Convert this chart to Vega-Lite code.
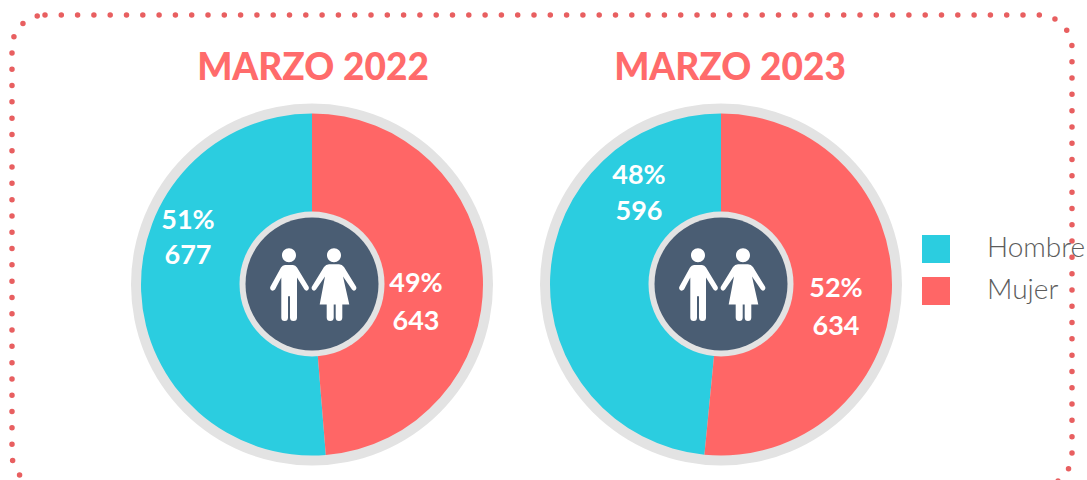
{
  "$schema": "https://vega.github.io/schema/vega-lite/v6.json",
  "width": 1087,
  "height": 480,
  "padding": 0,
  "autosize": {"type": "none"},
  "background": "white",
  "config": {"view": {"stroke": null}, "text": {"font": "Lato"}},
  "datasets": {
    "generos": [
      {"periodo": "MARZO 2022", "genero": "Hombre", "valor": 677, "rotulo": "51%\n677"},
      {"periodo": "MARZO 2022", "genero": "Mujer", "valor": 643, "rotulo": "49%\n643"},
      {"periodo": "MARZO 2023", "genero": "Hombre", "valor": 596, "rotulo": "48%\n596"},
      {"periodo": "MARZO 2023", "genero": "Mujer", "valor": 634, "rotulo": "52%\n634"}
    ],
    "periodos": [{"periodo": "MARZO 2022"}, {"periodo": "MARZO 2023"}],
    "marco": [{"marco": "borde"}]
  },
  "layer": [
    {
      "data": {"name": "marco"},
      "mark": {"type": "rect", "filled": false, "stroke": "#E85F60", "strokeWidth": 5.5, "strokeCap": "round", "strokeDash": [0, 16.3], "cornerRadius": 33},
      "encoding": {"x": {"value": 12}, "x2": {"value": 1072}, "y": {"value": 15}, "y2": {"value": 487}}
    },
    {
      "data": {"name": "periodos"},
      "mark": {"type": "arc", "radius": 181, "theta": 0, "theta2": 6.2832, "fill": "#E3E3E3"},
      "encoding": {
        "x": {"field": "periodo", "type": "nominal", "axis": null, "scale": {"domain": ["MARZO 2022", "MARZO 2023"], "range": [312, 721], "padding": 0}},
        "y": {"value": 284.5}
      }
    },
    {
      "data": {"name": "generos"},
      "transform": [{"stack": "valor", "groupby": ["periodo"], "sort": [{"field": "genero", "order": "descending"}], "offset": "normalize", "as": ["t0", "t1"]}],
      "mark": {"type": "arc", "radius": 171},
      "encoding": {
        "x": {"field": "periodo", "type": "nominal", "axis": null, "scale": {"domain": ["MARZO 2022", "MARZO 2023"], "range": [312, 721], "padding": 0}},
        "y": {"value": 284.5},
        "theta": {"field": "t0", "type": "quantitative", "scale": {"domain": [0, 1], "range": [0, 6.2832]}},
        "theta2": {"field": "t1"},
        "color": {
          "field": "genero", "type": "nominal",
          "scale": {"domain": ["Hombre", "Mujer"], "range": ["#2BCDE0", "#FF6666"]},
          "legend": {"orient": "none", "legendX": 922, "legendY": 235, "title": null, "symbolType": "square", "symbolSize": 784, "symbolStrokeWidth": 0, "symbolOpacity": 1, "labelFont": "Lato", "labelFontWeight": 300, "labelFontSize": 28, "labelColor": "#5C5C5C", "labelOffset": 37, "rowPadding": 14, "labelLimit": 200}
        }
      }
    },
    {
      "data": {"name": "periodos"},
      "mark": {"type": "arc", "radius": 72.5, "theta": 0, "theta2": 6.2832, "fill": "#E3E3E3"},
      "encoding": {
        "x": {"field": "periodo", "type": "nominal", "axis": null, "scale": {"domain": ["MARZO 2022", "MARZO 2023"], "range": [312, 721], "padding": 0}},
        "y": {"value": 284}
      }
    },
    {
      "data": {"name": "periodos"},
      "mark": {"type": "arc", "radius": 66.5, "theta": 0, "theta2": 6.2832, "fill": "#4A5D73"},
      "encoding": {
        "x": {"field": "periodo", "type": "nominal", "axis": null, "scale": {"domain": ["MARZO 2022", "MARZO 2023"], "range": [312, 721], "padding": 0}},
        "y": {"value": 284}
      }
    },
    {
      "data": {"name": "periodos"},
      "mark": {
        "type": "point", "filled": true, "fill": "white", "opacity": 1, "size": 4, "strokeWidth": 0,
        "shape": "M-30,-28.3 a7,7 0 1,0 14,0 a7,7 0 1,0 -14,0 Z M-27,-18.5 L-19,-18.5 Q-16.5,-18.5 -15,-16 L-3.5,3 Q-2.5,5 -4,6.5 Q-6,8 -7.5,6 L-15,-6 L-15,34 Q-15,37.5 -18.5,37.5 Q-22,37.5 -22,34 L-22,12.7 L-24,12.7 L-24,34 Q-24,37.5 -27.3,37.5 Q-30.7,37.5 -30.7,34 L-30.7,-6 L-37,6 Q-39,8 -41,6.5 Q-42.5,5 -41.5,3 L-31,-16 Q-29.5,-18.5 -27,-18.5 Z M15,-28.3 a7,7 0 1,0 14,0 a7,7 0 1,0 -14,0 Z M17,-19.3 L27,-19.3 Q30,-19.3 32,-16.5 L44,3 Q45,5 43.5,6.5 Q41.5,8 40,6 L31,-7 L37.3,21 L30.3,21 L30.3,34 Q30.3,37.5 27,37.5 Q23.7,37.5 23.7,34 L23.7,21 L21.7,21 L21.7,34 Q21.7,37.5 18.2,37.5 Q14.7,37.5 14.7,34 L14.7,21 L7.7,21 L13,-7 L4,6 Q2.5,8 0.5,6.5 Q-1,5 0,3 L12,-16.5 Q14,-19.3 17,-19.3 Z"
      },
      "encoding": {
        "x": {"field": "periodo", "type": "nominal", "axis": null, "scale": {"domain": ["MARZO 2022", "MARZO 2023"], "range": [312, 721], "padding": 0}},
        "y": {"value": 283.5}
      }
    },
    {
      "data": {"name": "generos"},
      "transform": [{"filter": "datum.periodo === 'MARZO 2022' && datum.genero === 'Hombre'"}],
      "mark": {"type": "text", "font": "Lato", "fontSize": 27, "fontWeight": 700, "fill": "white", "lineBreak": "\n", "lineHeight": 35, "dx": -124, "dy": -63, "align": "center", "baseline": "middle"},
      "encoding": {
        "x": {"field": "periodo", "type": "nominal", "axis": null, "scale": {"domain": ["MARZO 2022", "MARZO 2023"], "range": [312, 721], "padding": 0}},
        "y": {"value": 284},
        "text": {"field": "rotulo"}
      }
    },
    {
      "data": {"name": "generos"},
      "transform": [{"filter": "datum.periodo === 'MARZO 2022' && datum.genero === 'Mujer'"}],
      "mark": {"type": "text", "font": "Lato", "fontSize": 27, "fontWeight": 700, "fill": "white", "lineBreak": "\n", "lineHeight": 38, "dx": 104, "dy": 0, "align": "center", "baseline": "middle"},
      "encoding": {
        "x": {"field": "periodo", "type": "nominal", "axis": null, "scale": {"domain": ["MARZO 2022", "MARZO 2023"], "range": [312, 721], "padding": 0}},
        "y": {"value": 284},
        "text": {"field": "rotulo"}
      }
    },
    {
      "data": {"name": "generos"},
      "transform": [{"filter": "datum.periodo === 'MARZO 2023' && datum.genero === 'Hombre'"}],
      "mark": {"type": "text", "font": "Lato", "fontSize": 27, "fontWeight": 700, "fill": "white", "lineBreak": "\n", "lineHeight": 36, "dx": -82, "dy": -108, "align": "center", "baseline": "middle"},
      "encoding": {
        "x": {"field": "periodo", "type": "nominal", "axis": null, "scale": {"domain": ["MARZO 2022", "MARZO 2023"], "range": [312, 721], "padding": 0}},
        "y": {"value": 284},
        "text": {"field": "rotulo"}
      }
    },
    {
      "data": {"name": "generos"},
      "transform": [{"filter": "datum.periodo === 'MARZO 2023' && datum.genero === 'Mujer'"}],
      "mark": {"type": "text", "font": "Lato", "fontSize": 27, "fontWeight": 700, "fill": "white", "lineBreak": "\n", "lineHeight": 38, "dx": 115, "dy": 5, "align": "center", "baseline": "middle"},
      "encoding": {
        "x": {"field": "periodo", "type": "nominal", "axis": null, "scale": {"domain": ["MARZO 2022", "MARZO 2023"], "range": [312, 721], "padding": 0}},
        "y": {"value": 284},
        "text": {"field": "rotulo"}
      }
    },
    {
      "data": {"name": "periodos"},
      "mark": {"type": "text", "font": "Lato", "fontSize": 37, "fontWeight": 900, "fill": "#FF6B6B", "align": "center", "baseline": "middle"},
      "encoding": {
        "x": {"field": "periodo", "type": "nominal", "axis": null, "scale": {"domain": ["MARZO 2022", "MARZO 2023"], "range": [313, 730], "padding": 0}},
        "y": {"value": 69},
        "text": {"field": "periodo"}
      }
    }
  ],
  "resolve": {"scale": {"x": "independent", "y": "independent", "color": "independent"}}
}
